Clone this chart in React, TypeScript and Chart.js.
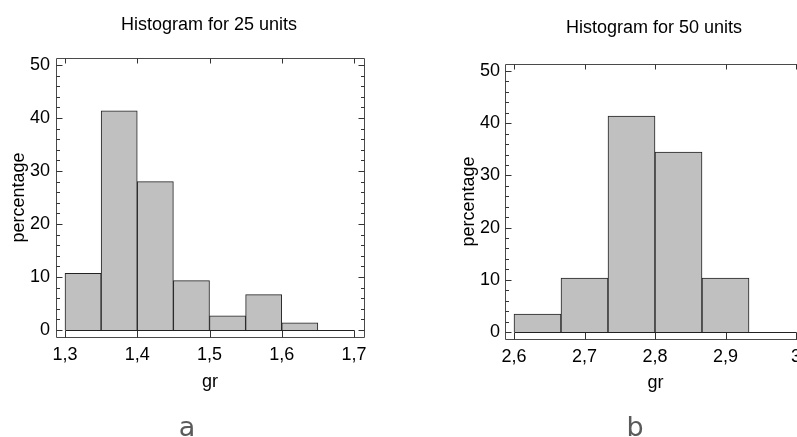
import { useEffect, useRef } from "react";
import { Chart, registerables } from "chart.js";

Chart.register(...registerables);
Chart.defaults.font.family = "'Liberation Sans', Arial, sans-serif";

// ---- Data ----
const edgesA = [1.3, 1.35, 1.4, 1.45, 1.5, 1.55, 1.6, 1.65, 1.7];
const percentA = [10.67, 41.33, 28.0, 9.33, 2.67, 6.67, 1.33, 0];
const xTicksA = [1.3, 1.4, 1.5, 1.6, 1.7];

const edgesB = [2.6, 2.66667, 2.73333, 2.8, 2.86667, 2.93333, 3.0];
const percentB = [3.45, 10.34, 41.38, 34.48, 10.34, 0];
const xTicksB = [2.6, 2.7, 2.8, 2.9, 3.0];

const yTicks = [0, 10, 20, 30, 40, 50];
const yMinorStep = 2;

const titleA = "Histogram for 25 units";
const titleB = "Histogram for 50 units";
const xLabel = "gr";
const yLabel = "percentage";

const FONT = 18;
const TEXT = "#000";

const framePlugin = {
  id: "frame",
  afterDatasetsDraw(chart: any, _args: any, opts: any) {
    const { ctx, chartArea: a, scales } = chart;
    const x = scales.x;
    const y = scales.y;
    const px = (v: number) => Math.round(v) + 0.5;
    ctx.save();
    ctx.lineWidth = 1;
    ctx.strokeStyle = "#4a4a4a";
    const L = px(a.left), R = px(a.right), T = px(a.top), B = px(a.bottom);
    ctx.beginPath();
    ctx.rect(L, T, R - L, B - T);
    ctx.stroke();
    ctx.strokeStyle = "#333";
    ctx.beginPath();
    const yMax = yTicks[yTicks.length - 1];
    for (let v = yTicks[0]; v <= yMax + 1e-9; v += yMinorStep) {
      const yy = px(y.getPixelForValue(v));
      const major = yTicks.includes(v);
      const len = major ? 6 : 3.5;
      ctx.moveTo(L, yy);
      ctx.lineTo(L + len, yy);
      ctx.moveTo(R, yy);
      ctx.lineTo(R - len, yy);
    }
    const y0 = px(y.getPixelForValue(0));
    const ticks: number[] = opts.xTicks;
    for (const v of ticks) {
      const xx = px(x.getPixelForValue(v));
      ctx.moveTo(xx, T);
      ctx.lineTo(xx, T + 5);
      ctx.moveTo(xx, B);
      ctx.lineTo(xx, y0);
    }
    ctx.stroke();
    ctx.strokeStyle = "#222";
    ctx.beginPath();
    ctx.moveTo(px(x.getPixelForValue(ticks[0])), y0);
    ctx.lineTo(px(x.getPixelForValue(ticks[ticks.length - 1])), y0);
    ctx.stroke();
    ctx.restore();
  },
};

type Spec = {
  edges: number[];
  values: number[];
  xTicks: number[];
  title: string;
  xMin: number;
  xMax: number;
  yMin: number;
  yMax: number;
  width: number;
  left: number;
  yAxisW: number;
  y2W: number;
  xAxisH: number;
  titlePad: { top: number; bottom: number };
  yTitlePad: number;
  xTitlePad: number;
  yTickPad: number;
  xTickPad: number;
};

const fmt = (v: number) => {
  const r = Math.round(v * 10) / 10;
  return String(r).replace(".", ",");
};

function makeConfig(s: Spec): any {
  const centers = s.values.map((_, i) => (s.edges[i] + s.edges[i + 1]) / 2);
  return {
    type: "bar",
    data: {
      datasets: [
        {
          data: centers.map((c, i) => ({ x: c, y: s.values[i] })),
          backgroundColor: "#c0c0c0",
          borderColor: "#222",
          borderWidth: 1,
          barPercentage: 1,
          categoryPercentage: 1,
        },
      ],
    },
    plugins: [framePlugin],
    options: {
      responsive: false,
      animation: false,
      layout: { padding: 0 },
      plugins: {
        legend: { display: false },
        tooltip: { enabled: false },
        title: {
          display: true,
          text: s.title,
          color: TEXT,
          font: { size: FONT, weight: "normal" },
          padding: s.titlePad,
        },
        frame: { xTicks: s.xTicks },
      },
      scales: {
        x: {
          type: "linear",
          offset: false,
          min: s.xMin,
          max: s.xMax,
          afterBuildTicks: (sc: any) => {
            sc.ticks = s.xTicks.map((v) => ({ value: v }));
          },
          afterFit: (sc: any) => {
            sc.height = s.xAxisH;
          },
          ticks: {
            callback: (v: number) => fmt(v),
            padding: s.xTickPad,
            color: TEXT,
            font: { size: FONT },
            maxRotation: 0,
            autoSkip: false,
          },
          grid: { display: false, drawTicks: false, offset: false },
          border: { display: false },
          title: {
            display: true,
            text: xLabel,
            color: TEXT,
            font: { size: FONT },
            padding: { top: 0, bottom: s.xTitlePad },
          },
        },
        y: {
          type: "linear",
          position: "left",
          min: s.yMin,
          max: s.yMax,
          afterBuildTicks: (sc: any) => {
            sc.ticks = yTicks.map((v) => ({ value: v }));
          },
          afterFit: (sc: any) => {
            sc.width = s.yAxisW;
          },
          ticks: {
            padding: s.yTickPad,
            color: TEXT,
            font: { size: FONT },
          },
          grid: { display: false, drawTicks: false },
          border: { display: false },
          title: {
            display: true,
            text: yLabel,
            color: TEXT,
            font: { size: FONT },
            padding: { top: s.yTitlePad, bottom: 0 },
          },
        },
        y2: {
          type: "linear",
          position: "right",
          display: true,
          min: s.yMin,
          max: s.yMax,
          afterFit: (sc: any) => {
            sc.width = s.y2W;
          },
          ticks: { display: false },
          grid: { display: false, drawTicks: false },
          border: { display: false },
        },
      },
    },
  };
}

const specA: Spec = {
  edges: edgesA,
  values: percentA,
  xTicks: xTicksA,
  title: titleA,
  xMin: 1.28754,
  xMax: 1.71384,
  yMin: -1.32,
  yMax: 51.32,
  width: 418,
  left: 0,
  yAxisW: 56,
  y2W: 54,
  xAxisH: 100,
  titlePad: { top: 13.9, bottom: 22.5 },
  yTitlePad: 7.9,
  xTitlePad: 44.2,
  yTickPad: 6,
  xTickPad: 7.4,
};

const specB: Spec = {
  edges: edgesB,
  values: percentB,
  xTicks: xTicksB,
  title: titleB,
  xMin: 2.58723,
  xMax: 3.01418,
  yMin: -1.34,
  yMax: 51.34,
  width: 472,
  left: 418,
  yAxisW: 87,
  y2W: 84,
  xAxisH: 98,
  titlePad: { top: 16.9, bottom: 25.5 },
  yTitlePad: 40.2,
  xTitlePad: 43.2,
  yTickPad: 5,
  xTickPad: 7.4,
};

function Hist({ spec }: { spec: Spec }) {
  const ref = useRef<HTMLCanvasElement>(null);
  useEffect(() => {
    const chart = new Chart(ref.current as HTMLCanvasElement, makeConfig(spec));
    return () => chart.destroy();
  }, [spec]);
  return (
    <canvas
      ref={ref}
      width={spec.width}
      height={437}
      style={{ position: "absolute", left: spec.left, top: 0, width: spec.width, height: 437 }}
    />
  );
}

const subLabelStyle = (cx: number): any => ({
  position: "absolute",
  left: cx - 50,
  width: 100,
  top: 413,
  textAlign: "center",
  fontFamily: "'DejaVu Sans', Verdana, sans-serif",
  fontSize: 27,
  lineHeight: "27px",
  color: "#5a5a5a",
});

export default function App() {
  return (
    <div
      style={{
        position: "fixed",
        left: 0,
        top: 0,
        width: 797,
        height: 437,
        overflow: "hidden",
        background: "#fff",
      }}
    >
      <Hist spec={specA} />
      <Hist spec={specB} />
      <div style={subLabelStyle(187)}>a</div>
      <div style={subLabelStyle(635)}>b</div>
    </div>
  );
}
